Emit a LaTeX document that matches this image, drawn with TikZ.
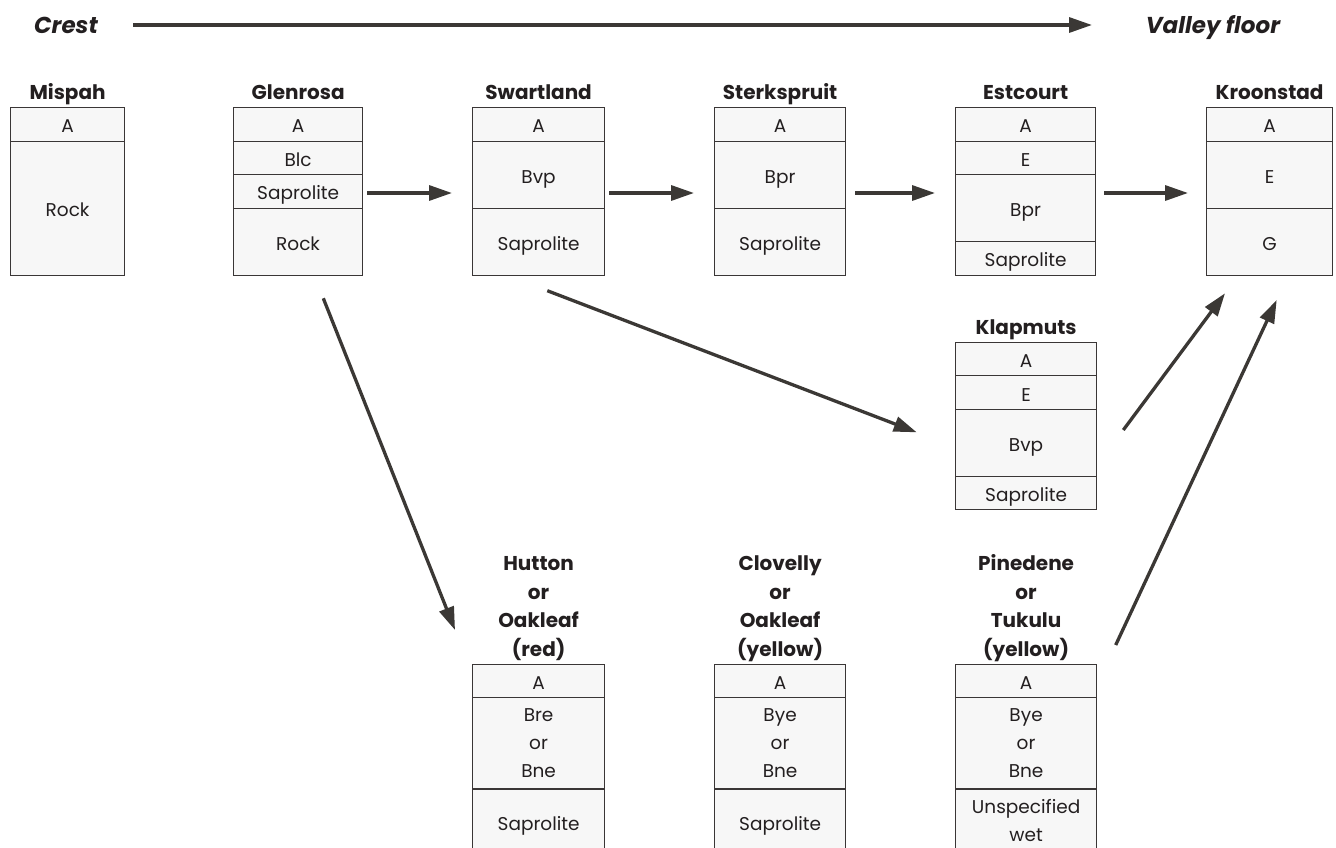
\documentclass[tikz,border=0pt]{standalone}
\usepackage{fontspec}
\setmainfont{Poppins}
\usetikzlibrary{arrows.meta}
\definecolor{cellfill}{HTML}{F7F7F7}
\definecolor{celldraw}{HTML}{3A3636}
\definecolor{ink}{HTML}{231F20}
\definecolor{arrowc}{HTML}{3B3835}
% single-line cell
\newcommand\cellat[6]{\node[cell, oneline, minimum width=#4pt, minimum height=#5pt] (#1) at (#2,#3) {#6};}
% multi-line cell
\newcommand\mcellat[6]{\node[cell, minimum width=#4pt, minimum height=#5pt] (#1) at (#2,#3) {#6};}
\begin{document}
\begin{tikzpicture}[x=1pt,y=-1pt,
  cell/.style={draw=celldraw, fill=cellfill, line width=1.2pt, anchor=north west, inner sep=0pt, align=center, text=ink, font=\fontsize{18.5}{28}\selectfont},
  oneline/.style={text height=17pt, text depth=0pt},
  ptitle/.style={anchor=south, inner sep=0pt, text depth=0pt, align=center, text=ink, font=\fontsize{20}{28.5}\selectfont\bfseries},
  endlabel/.style={anchor=base, inner sep=0pt, text=ink, font=\fontsize{23}{23}\selectfont\bfseries\itshape},
  flow/.style={draw=arrowc, line width=3.3pt, -{Triangle[length=23pt,width=15pt]}},
]
\useasboundingbox (0,0) rectangle (1336,847);
\clip (0,0) rectangle (1336,847);

% end labels
\node[endlabel] (crest) at (66,33.5) {Crest};
\node[endlabel] (valley) at (1213,33.5) {Valley floor};
\coordinate (topS) at (133,25);
\coordinate (topE) at (1092,25);
\draw[flow] (topS) -- (topE);

% Mispah
\cellat{mi1}{10}{107}{114}{33.5}{A}
\cellat{mi2}{10}{140.5}{114}{134}{Rock}
\node[ptitle] (miT) at ([yshift=7pt]mi1.north) {Mispah};

% Glenrosa
\cellat{gl1}{233}{107}{129}{33.5}{A}
\cellat{gl2}{233}{140.5}{129}{33.5}{Blc}
\cellat{gl3}{233}{174}{129}{33.5}{Saprolite}
\cellat{gl4}{233}{207.5}{129}{67}{Rock}
\node[ptitle] (glT) at ([yshift=7pt]gl1.north) {Glenrosa};

% Swartland
\cellat{sw1}{472}{107}{132}{33.5}{A}
\cellat{sw2}{472}{140.5}{132}{67}{Bvp}
\cellat{sw3}{472}{207.5}{132}{67}{Saprolite}
\node[ptitle] (swT) at ([yshift=7pt]sw1.north) {Swartland};

% Sterkspruit
\cellat{st1}{714}{107}{131}{33.5}{A}
\cellat{st2}{714}{140.5}{131}{67}{Bpr}
\cellat{st3}{714}{207.5}{131}{67}{Saprolite}
\node[ptitle] (stT) at ([yshift=7pt]st1.north) {Sterkspruit};

% Estcourt
\cellat{es1}{955}{107}{140}{33.5}{A}
\cellat{es2}{955}{140.5}{140}{33.5}{E}
\cellat{es3}{955}{174}{140}{67}{Bpr}
\cellat{es4}{955}{241}{140}{33.5}{Saprolite}
\node[ptitle] (esT) at ([yshift=7pt]es1.north) {Estcourt};

% Kroonstad
\cellat{kr1}{1206}{107}{126}{33.5}{A}
\cellat{kr2}{1206}{140.5}{126}{67}{E}
\cellat{kr3}{1206}{207.5}{126}{67}{G}
\node[ptitle] (krT) at ([yshift=7pt]kr1.north) {Kroonstad};

% Klapmuts
\cellat{kl1}{955}{341.7}{141}{33.5}{A}
\cellat{kl2}{955}{375.2}{141}{33.5}{E}
\cellat{kl3}{955}{408.7}{141}{67}{Bvp}
\cellat{kl4}{955}{475.7}{141}{33.5}{Saprolite}
\node[ptitle] (klT) at ([yshift=7pt]kl1.north) {Klapmuts};

% Hutton
\cellat{hu1}{472}{663.5}{132}{33.5}{A}
\mcellat{hu2}{472}{697}{132}{91.3}{Bre\\or\\Bne}
\cellat{hu3}{472}{788.3}{132}{67}{Saprolite}
\node[ptitle] (huT) at ([yshift=7pt]hu1.north) {Hutton\\or\\Oakleaf\\(red)};

% Clovelly
\cellat{cl1}{714}{663.5}{131}{33.5}{A}
\mcellat{cl2}{714}{697}{131}{91.3}{Bye\\or\\Bne}
\cellat{cl3}{714}{788.3}{131}{67}{Saprolite}
\node[ptitle] (clT) at ([yshift=7pt]cl1.north) {Clovelly\\or\\Oakleaf\\(yellow)};

% Pinedene
\cellat{pi1}{955}{663.5}{141}{33.5}{A}
\mcellat{pi2}{955}{697}{141}{91.3}{Bye\\or\\Bne}
\mcellat{pi3}{955}{788.3}{141}{64}{\fontsize{18.5}{26.5}\selectfont Unspecified\\wet}
\node[ptitle] (piT) at ([yshift=7pt]pi1.north) {Pinedene\\or\\Tukulu\\(yellow)};

% connector end points
\coordinate (glOut) at (367,193);
\coordinate (swIn) at (452,193);
\coordinate (swOut) at (609,193);
\coordinate (stIn) at (694,193);
\coordinate (stOut) at (855,193);
\coordinate (esIn) at (935,193);
\coordinate (esOut) at (1104,193);
\coordinate (krIn) at (1188,193);
\coordinate (glDown) at (323.3,298.3);
\coordinate (huIn) at (455,630);
\coordinate (swDown) at (547.3,290.7);
\coordinate (klIn) at (916.7,432.3);
\coordinate (klOut) at (1123.3,430);
\coordinate (krInA) at (1225,293.3);
\coordinate (piOut) at (1115.7,645);
\coordinate (krInB) at (1276.7,300);

\draw[flow] (glOut) -- (swIn);
\draw[flow] (swOut) -- (stIn);
\draw[flow] (stOut) -- (esIn);
\draw[flow] (esOut) -- (krIn);
\draw[flow] (glDown) -- (huIn);
\draw[flow] (swDown) -- (klIn);
\draw[flow] (klOut) -- (krInA);
\draw[flow] (piOut) -- (krInB);
\end{tikzpicture}
\end{document}
